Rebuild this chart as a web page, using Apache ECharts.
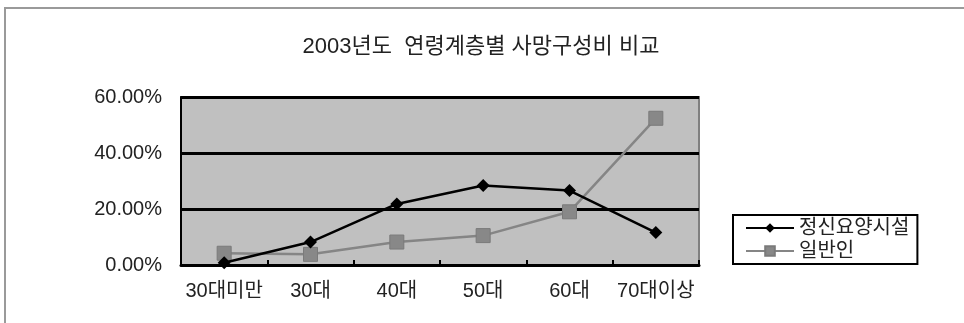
<!DOCTYPE html>
<html><head><meta charset="utf-8">
<script src="https://cdn.jsdelivr.net/npm/echarts@6/dist/echarts.min.js"></script>
<style>html,body{margin:0;padding:0;background:#fff}#c{width:964px;height:323px}</style>
</head><body><div id="c"></div>
<script>
const title = '2003년도  연령계층별 사망구성비 비교';
const categories = ['30대미만', '30대', '40대', '50대', '60대', '70대이상'];
const seriesNames = ['정신요양시설', '일반인'];
const facilityValues = [0.8, 8.2, 21.8, 28.4, 26.6, 11.6];
const generalValues = [4.2, 3.8, 8.2, 10.5, 19.0, 52.4];
const yTicks = [0, 20, 40, 60];

const FONT = '"Liberation Sans", "Noto Sans CJK KR", sans-serif';
const chart = echarts.init(document.getElementById('c'), null, {renderer: 'canvas'});
chart.setOption({
  backgroundColor: '#fff',
  animation: false,
  title: {
    text: title, left: 476, top: 31, textAlign: 'center',
    textStyle: {fontFamily: FONT, fontSize: 22, fontWeight: 'normal', color: '#222'}
  },
  graphic: [{
    type: 'rect', shape: {x: 5, y: 8, width: 1000, height: 400},
    style: {fill: 'none', stroke: '#9a9a9a', lineWidth: 2}, z: 100
  }],
  grid: {
    left: 181, right: 265, top: 97, bottom: 58,
    show: true, backgroundColor: '#c0c0c0', borderColor: '#808080', borderWidth: 2
  },
  legend: {
    orient: 'vertical', left: 733, top: 215,
    padding: [3, 8, 3, 12], itemGap: 3,
    borderColor: '#000', borderWidth: 2, backgroundColor: '#fff',
    itemWidth: 48, itemHeight: 12,
    textStyle: {fontFamily: FONT, fontSize: 20, color: '#222', padding: [0, 4, 0, 0]},
    data: seriesNames
  },
  xAxis: {
    type: 'category', data: categories, boundaryGap: true,
    axisLine: {lineStyle: {color: '#000', width: 3}},
    axisTick: {show: true, inside: true, length: 5, lineStyle: {color: '#000', width: 2}},
    axisLabel: {fontFamily: FONT, fontSize: 20, color: '#222', margin: 16, interval: 0, hideOverlap: false}
  },
  yAxis: {
    type: 'value', min: 0, max: 60, interval: 20,
    axisLine: {show: true, lineStyle: {color: '#000', width: 2}},
    axisTick: {show: false},
    splitLine: {show: true, lineStyle: {color: '#000', width: 3}},
    axisLabel: {fontFamily: FONT, fontSize: 20, color: '#222', margin: 19,
      formatter: v => yTicks.includes(v) ? v.toFixed(2) + '%' : ''}
  },
  series: [
    {
      name: seriesNames[0], type: 'line', data: facilityValues,
      symbol: 'diamond', symbolSize: 13,
      lineStyle: {color: '#000', width: 2.5},
      itemStyle: {color: '#000'}, z: 3
    },
    {
      name: seriesNames[1], type: 'line', data: generalValues,
      symbol: 'rect', symbolSize: 14,
      lineStyle: {color: '#858585', width: 2.5},
      itemStyle: {color: '#888888', borderColor: '#7a7a7a', borderWidth: 1}, z: 2
    }
  ]
});
</script></body></html>
